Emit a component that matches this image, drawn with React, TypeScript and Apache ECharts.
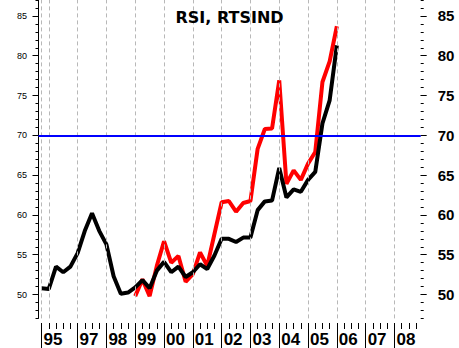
import React, { useEffect, useRef } from "react";
import * as echarts from "echarts";

// Quarter start positions (decimal years) of each data point
const quarters: string[] = [
  "1995Q4",
  "1996Q1", "1996Q2", "1996Q3", "1996Q4",
  "1997Q1", "1997Q2", "1997Q3", "1997Q4",
  "1998Q1", "1998Q2", "1998Q3", "1998Q4",
  "1999Q1", "1999Q2", "1999Q3", "1999Q4",
  "2000Q1", "2000Q2", "2000Q3", "2000Q4",
  "2001Q1", "2001Q2", "2001Q3", "2001Q4",
  "2002Q1", "2002Q2", "2002Q3", "2002Q4",
  "2003Q1", "2003Q2", "2003Q3", "2003Q4",
  "2004Q1", "2004Q2", "2004Q3", "2004Q4",
  "2005Q1", "2005Q2", "2005Q3", "2005Q4",
  "2006Q1",
];

const blackSeries: (number | null)[] = [
  50.8,
  50.7, 53.5, 52.8, 53.5,
  55.2, 58.0, 60.2, 58.0,
  56.3, 52.3, 50.1, 50.25,
  50.9, 51.8, 50.8, 53.0,
  54.1, 52.8, 53.5, 52.2,
  52.8, 53.8, 53.2, 54.9,
  57.0, 57.0, 56.6, 57.15,
  57.15, 60.6, 61.7, 61.8,
  65.9, 62.2, 63.2, 62.9,
  64.4, 65.4, 71.5, 74.4,
  81.3,
];

const redSeries: (number | null)[] = [
  null,
  null, null, null, null,
  null, null, null, null,
  null, null, null, null,
  49.8, 51.9, 49.8, 53.6,
  56.7, 54.0, 54.85, 51.6,
  52.55, 55.3, 53.6, 57.6,
  61.6, 61.75, 60.4, 61.5,
  61.75, 68.3, 70.8, 70.85,
  76.9, 63.9, 65.6, 64.4,
  66.45, 67.9, 76.7, 79.3,
  83.7,
];

const gridYears: number[] = [1995.75, 1996, 1997, 1998, 1999, 2000, 2001, 2002, 2003, 2004, 2005, 2006, 2007, 2008];
const yearTicks: number[] = [1995.75, 1997, 1998, 1999, 2000, 2001, 2002, 2003, 2004, 2005, 2006, 2007, 2008];
const yearLabels: string[] = ["95", "97", "98", "99", "00", "01", "02", "03", "04", "05", "06", "07", "08"];
const yMajor: number[] = [50, 55, 60, 65, 70, 75, 80, 85];
const overboughtLevel = 70;

const X_MIN = 1995.642;
const X_MAX = 2008.911;
const Y_MIN = 47;
const Y_MAX = 87;

function quarterToYear(q: string): number {
  const y = parseInt(q.slice(0, 4), 10);
  const n = parseInt(q.slice(5), 10);
  return y + (n - 1) / 4;
}

export default function App() {
  const ref = useRef<HTMLDivElement>(null);

  useEffect(() => {
    if (!ref.current) return;
    const chart = echarts.init(ref.current, undefined, { renderer: "svg" });

    const xs = quarters.map(quarterToYear);
    const blackData = xs.map((x, i) => [x, blackSeries[i]]);
    const redData = xs.map((x, i) => [x, redSeries[i]]);

    const shortTicks: number[] = [];
    for (let y = 1996; y <= 2008; y++) {
      for (const f of [0, 0.25, 0.5, 0.75]) {
        const v = y + f;
        if (!yearTicks.includes(v)) shortTicks.push(v);
      }
    }
    const minorY: number[] = [];
    for (let v = Y_MIN; v <= Y_MAX; v++) minorY.push(v);

    const baseX = {
      type: "value" as const,
      min: X_MIN,
      max: X_MAX,
      splitLine: { show: false },
      axisLine: { show: false },
    };
    const baseY = {
      type: "value" as const,
      min: Y_MIN,
      max: Y_MAX,
      splitLine: { show: false },
    };

    chart.setOption({
      animation: false,
      backgroundColor: "#ffffff",
      title: {
        text: "RSI, RTSIND",
        left: "center",
        top: 4,
        textStyle: {
          fontFamily: "DejaVu Sans",
          fontWeight: "bold",
          fontSize: 16,
          color: "#000",
        },
      },
      grid: { left: 38.5, right: 38.3, top: 0, bottom: 29.6 },
      xAxis: [
        { ...baseX, axisTick: { show: false }, axisLabel: { show: false } },
        {
          ...baseX,
          position: "bottom",
          offset: 4.6,
          axisTick: { show: true, customValues: shortTicks, length: 6, lineStyle: { color: "#000", width: 1 } },
          axisLabel: { show: false },
        },
        {
          ...baseX,
          position: "bottom",
          offset: 4.6,
          axisTick: { show: true, customValues: yearTicks, length: 26, lineStyle: { color: "#000", width: 1 } },
          axisLabel: {
            show: true,
            customValues: yearTicks,
            formatter: (v: number) => {
              const i = yearTicks.findIndex((t) => Math.abs(t - v) < 1e-6);
              return i >= 0 ? yearLabels[i] : "";
            },
            align: "left",
            padding: [0, 0, 0, 2],
            margin: 8,
            fontFamily: "Liberation Sans",
            fontWeight: "bold",
            fontSize: 17,
            color: "#000",
          },
        },
      ],
      yAxis: [
        {
          ...baseY,
          position: "left",
          axisLine: { show: true, lineStyle: { color: "#000", width: 1 } },
          axisTick: { show: true, customValues: minorY, length: 3, lineStyle: { color: "#000" } },
          axisLabel: {
            show: true,
            customValues: yMajor,
            margin: 11.5,
            fontFamily: "Liberation Sans",
            fontSize: 9,
            color: "#000",
          },
        },
        {
          ...baseY,
          position: "left",
          axisLine: { show: false },
          axisTick: { show: true, customValues: yMajor, length: 6, lineStyle: { color: "#000" } },
          axisLabel: { show: false },
        },
        {
          ...baseY,
          position: "right",
          axisLine: { show: false },
          axisTick: { show: true, customValues: minorY, length: 3, lineStyle: { color: "#000" } },
          axisLabel: {
            show: true,
            customValues: yMajor,
            margin: 17,
            fontFamily: "Liberation Sans",
            fontWeight: "bold",
            fontSize: 15,
            color: "#000",
          },
        },
        {
          ...baseY,
          position: "right",
          axisLine: { show: false },
          axisTick: { show: true, customValues: yMajor, length: 6, lineStyle: { color: "#000" } },
          axisLabel: { show: false },
        },
      ],
      series: [
        {
          type: "line",
          xAxisIndex: 0,
          yAxisIndex: 0,
          data: [],
          silent: true,
          markLine: {
            silent: true,
            symbol: "none",
            label: { show: false },
            data: [
              ...gridYears.map((g) => ({
                xAxis: g,
                lineStyle: { color: "#b8b8b8", width: 1, type: [4, 3] },
              })),
              {
                yAxis: overboughtLevel,
                lineStyle: { color: "#0000ff", width: 2, type: "solid" },
              },
            ],
          },
        },
        {
          type: "line",
          xAxisIndex: 0,
          yAxisIndex: 0,
          data: redData,
          showSymbol: false,
          connectNulls: false,
          lineStyle: { color: "#ff0000", width: 4 },
          itemStyle: { color: "#ff0000" },
        },
        {
          type: "line",
          xAxisIndex: 0,
          yAxisIndex: 0,
          data: blackData,
          showSymbol: false,
          lineStyle: { color: "#000000", width: 4 },
          itemStyle: { color: "#000000" },
        },
      ],
    });

    return () => chart.dispose();
  }, []);

  return (
    <div
      ref={ref}
      style={{ position: "fixed", left: 0, top: 0, width: 459, height: 348, background: "#fff" }}
    />
  );
}
